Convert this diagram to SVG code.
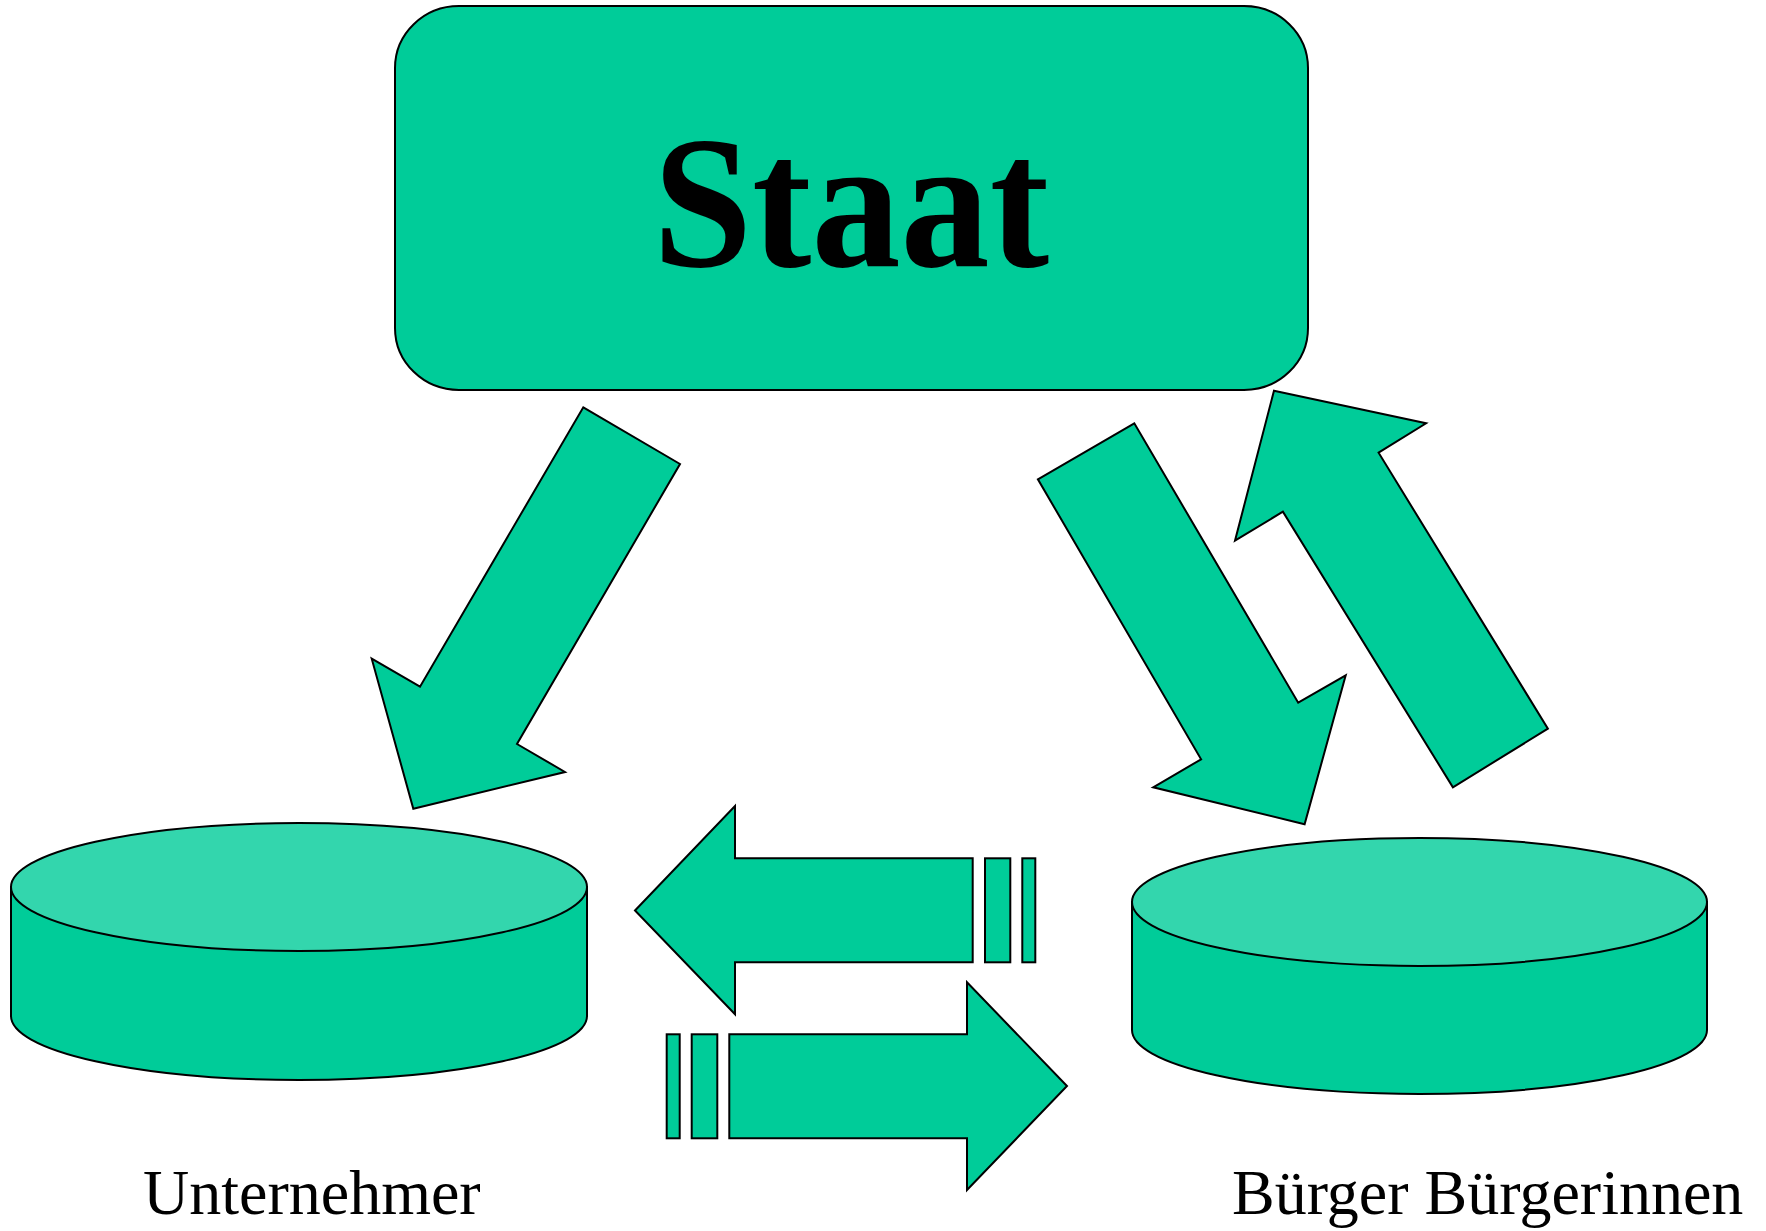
<svg xmlns="http://www.w3.org/2000/svg" width="1766" height="1231" viewBox="0 0 1766 1231">
<style>
.shape{fill:#00CC99;stroke:#000;stroke-width:2;stroke-linejoin:miter}
.top{fill:#33D6AD;stroke:#000;stroke-width:2}
.lbl{font-family:"Liberation Serif","Times New Roman",serif;font-size:64px;fill:#000}
.title{font-family:"Liberation Serif","Times New Roman",serif;font-weight:bold;font-size:188px;fill:#000}
</style>
<rect width="1766" height="1231" fill="#fff"/>
<g id="staat">
<rect class="shape" x="395" y="6" width="913" height="384" rx="64" ry="62"/>
<text class="title" x="851" y="266" text-anchor="middle" textLength="396" lengthAdjust="spacingAndGlyphs">Staat</text>
</g>
<g id="unternehmer">
<path class="shape" d="M11 887 V1016 A288 64 0 0 0 587 1016 V887 Z"/>
<ellipse class="top" cx="299" cy="887" rx="288" ry="64"/>
<text class="lbl" x="143" y="1214">Unternehmer</text>
</g>
<g id="buerger">
<path class="shape" d="M1132 902 V1030 A287.5 64 0 0 0 1707 1030 V902 Z"/>
<ellipse class="top" cx="1419.5" cy="902" rx="287.5" ry="64"/>
<text class="lbl" x="1232" y="1214">Bürger Bürgerinnen</text>
</g>
<g id="connectors">
<polygon class="shape" points="583.3,407.3 680,464 517,744 565,772 413.3,808.7 371.7,658.7 420,686.7"/>
<polygon class="shape" points="1134.3,423.3 1037.9,479.3 1201.1,759.3 1153.2,787.3 1304.6,824.3 1345.7,675.3 1298.2,702.7"/>
<polygon class="shape" points="1274,390.7 1426.1,423.3 1378.6,452.7 1547.9,728.7 1452.9,787.3 1282.9,511.7 1235,540.7"/>
<polygon class="shape" points="635,910.5 735,806 735,858.3 972.7,858.3 972.7,962.3 735,962.3 735,1014.3"/>
<rect class="shape" x="985" y="858.3" width="25.3" height="104"/>
<rect class="shape" x="1022.3" y="858.3" width="13" height="104"/>
<polygon class="shape" points="729.3,1034.3 967,1034.3 967,982.3 1067,1086 967,1190 967,1138.3 729.3,1138.3"/>
<rect class="shape" x="666.7" y="1034.3" width="13" height="104"/>
<rect class="shape" x="691.7" y="1034.3" width="25.6" height="104"/>
</g>
</svg>
